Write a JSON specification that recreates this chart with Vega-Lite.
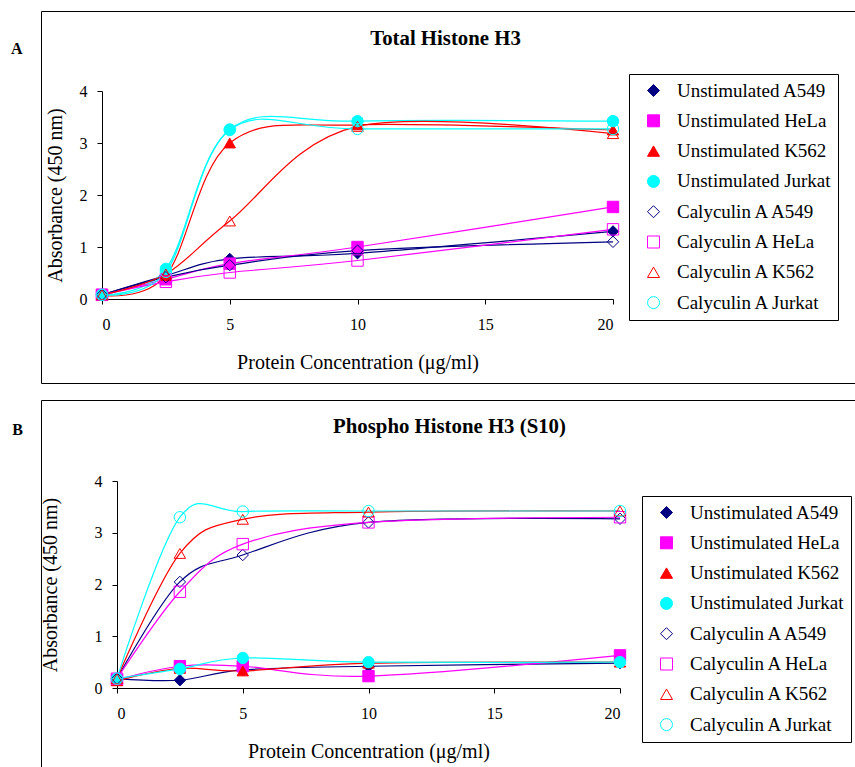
{
  "$schema": "https://vega.github.io/schema/vega-lite/v6.json",
  "padding": {"left": 10, "top": 10, "right": 0, "bottom": 0},
  "spacing": 15,
  "resolve": {"scale": {"stroke": "independent", "fill": "independent", "shape": "independent"}},
  "config": {
    "font": "Liberation Serif",
    "view": {"stroke": "black", "strokeWidth": 1},
    "axis": {"domainColor": "black", "tickColor": "black", "labelColor": "black", "titleColor": "black", "grid": false, "labelFont": "Liberation Serif", "titleFont": "Liberation Serif", "labelFontSize": 16, "titleFontSize": 20, "titleFontWeight": "normal", "tickSize": 5, "domainWidth": 1, "tickWidth": 1},
    "legend": {"strokeColor": "black", "strokeWidth": 1, "padding": 7, "labelFont": "Liberation Serif", "labelFontSize": 19, "labelColor": "black", "rowPadding": 10.3, "symbolSize": 144, "symbolStrokeWidth": 1, "labelOffset": 14, "symbolOffset": 8, "fillColor": "white"},
    "title": {"font": "Liberation Serif", "fontWeight": "bold", "color": "black"}
  },
  "data": {"values": [
    {"panel": "A", "series": "Unstimulated A549", "conc": 0, "abs": 0.08},
    {"panel": "A", "series": "Unstimulated A549", "conc": 2.5, "abs": 0.45},
    {"panel": "A", "series": "Unstimulated A549", "conc": 5, "abs": 0.77},
    {"panel": "A", "series": "Unstimulated A549", "conc": 10, "abs": 0.88},
    {"panel": "A", "series": "Unstimulated A549", "conc": 20, "abs": 1.3},
    {"panel": "A", "series": "Unstimulated HeLa", "conc": 0, "abs": 0.08},
    {"panel": "A", "series": "Unstimulated HeLa", "conc": 2.5, "abs": 0.38},
    {"panel": "A", "series": "Unstimulated HeLa", "conc": 5, "abs": 0.68},
    {"panel": "A", "series": "Unstimulated HeLa", "conc": 10, "abs": 1.0},
    {"panel": "A", "series": "Unstimulated HeLa", "conc": 20, "abs": 1.77},
    {"panel": "A", "series": "Unstimulated K562", "conc": 0, "abs": 0.07},
    {"panel": "A", "series": "Unstimulated K562", "conc": 2.5, "abs": 0.45},
    {"panel": "A", "series": "Unstimulated K562", "conc": 5, "abs": 3.0},
    {"panel": "A", "series": "Unstimulated K562", "conc": 10, "abs": 3.35},
    {"panel": "A", "series": "Unstimulated K562", "conc": 20, "abs": 3.25},
    {"panel": "A", "series": "Unstimulated Jurkat", "conc": 0, "abs": 0.08},
    {"panel": "A", "series": "Unstimulated Jurkat", "conc": 2.5, "abs": 0.58},
    {"panel": "A", "series": "Unstimulated Jurkat", "conc": 5, "abs": 3.26},
    {"panel": "A", "series": "Unstimulated Jurkat", "conc": 10, "abs": 3.42},
    {"panel": "A", "series": "Unstimulated Jurkat", "conc": 20, "abs": 3.42},
    {"panel": "A", "series": "Calyculin A A549", "conc": 0, "abs": 0.08},
    {"panel": "A", "series": "Calyculin A A549", "conc": 2.5, "abs": 0.42},
    {"panel": "A", "series": "Calyculin A A549", "conc": 5, "abs": 0.65},
    {"panel": "A", "series": "Calyculin A A549", "conc": 10, "abs": 0.93},
    {"panel": "A", "series": "Calyculin A A549", "conc": 20, "abs": 1.1},
    {"panel": "A", "series": "Calyculin A HeLa", "conc": 0, "abs": 0.08},
    {"panel": "A", "series": "Calyculin A HeLa", "conc": 2.5, "abs": 0.33},
    {"panel": "A", "series": "Calyculin A HeLa", "conc": 5, "abs": 0.51},
    {"panel": "A", "series": "Calyculin A HeLa", "conc": 10, "abs": 0.74},
    {"panel": "A", "series": "Calyculin A HeLa", "conc": 20, "abs": 1.34},
    {"panel": "A", "series": "Calyculin A K562", "conc": 0, "abs": 0.08},
    {"panel": "A", "series": "Calyculin A K562", "conc": 2.5, "abs": 0.48},
    {"panel": "A", "series": "Calyculin A K562", "conc": 5, "abs": 1.5},
    {"panel": "A", "series": "Calyculin A K562", "conc": 10, "abs": 3.32},
    {"panel": "A", "series": "Calyculin A K562", "conc": 20, "abs": 3.18},
    {"panel": "A", "series": "Calyculin A Jurkat", "conc": 0, "abs": 0.08},
    {"panel": "A", "series": "Calyculin A Jurkat", "conc": 2.5, "abs": 0.52},
    {"panel": "A", "series": "Calyculin A Jurkat", "conc": 5, "abs": 3.25},
    {"panel": "A", "series": "Calyculin A Jurkat", "conc": 10, "abs": 3.27},
    {"panel": "A", "series": "Calyculin A Jurkat", "conc": 20, "abs": 3.27},
    {"panel": "B", "series": "Unstimulated A549", "conc": 0, "abs": 0.18},
    {"panel": "B", "series": "Unstimulated A549", "conc": 2.5, "abs": 0.15},
    {"panel": "B", "series": "Unstimulated A549", "conc": 5, "abs": 0.35},
    {"panel": "B", "series": "Unstimulated A549", "conc": 10, "abs": 0.42},
    {"panel": "B", "series": "Unstimulated A549", "conc": 20, "abs": 0.48},
    {"panel": "B", "series": "Unstimulated HeLa", "conc": 0, "abs": 0.16},
    {"panel": "B", "series": "Unstimulated HeLa", "conc": 2.5, "abs": 0.42},
    {"panel": "B", "series": "Unstimulated HeLa", "conc": 5, "abs": 0.42},
    {"panel": "B", "series": "Unstimulated HeLa", "conc": 10, "abs": 0.23},
    {"panel": "B", "series": "Unstimulated HeLa", "conc": 20, "abs": 0.63},
    {"panel": "B", "series": "Unstimulated K562", "conc": 0, "abs": 0.14},
    {"panel": "B", "series": "Unstimulated K562", "conc": 2.5, "abs": 0.38},
    {"panel": "B", "series": "Unstimulated K562", "conc": 5, "abs": 0.33},
    {"panel": "B", "series": "Unstimulated K562", "conc": 10, "abs": 0.48},
    {"panel": "B", "series": "Unstimulated K562", "conc": 20, "abs": 0.5},
    {"panel": "B", "series": "Unstimulated Jurkat", "conc": 0, "abs": 0.18},
    {"panel": "B", "series": "Unstimulated Jurkat", "conc": 2.5, "abs": 0.37},
    {"panel": "B", "series": "Unstimulated Jurkat", "conc": 5, "abs": 0.58},
    {"panel": "B", "series": "Unstimulated Jurkat", "conc": 10, "abs": 0.5},
    {"panel": "B", "series": "Unstimulated Jurkat", "conc": 20, "abs": 0.5},
    {"panel": "B", "series": "Calyculin A A549", "conc": 0, "abs": 0.18},
    {"panel": "B", "series": "Calyculin A A549", "conc": 2.5, "abs": 2.05},
    {"panel": "B", "series": "Calyculin A A549", "conc": 5, "abs": 2.57},
    {"panel": "B", "series": "Calyculin A A549", "conc": 10, "abs": 3.2},
    {"panel": "B", "series": "Calyculin A A549", "conc": 20, "abs": 3.27},
    {"panel": "B", "series": "Calyculin A HeLa", "conc": 0, "abs": 0.18},
    {"panel": "B", "series": "Calyculin A HeLa", "conc": 2.5, "abs": 1.86},
    {"panel": "B", "series": "Calyculin A HeLa", "conc": 5, "abs": 2.78},
    {"panel": "B", "series": "Calyculin A HeLa", "conc": 10, "abs": 3.2},
    {"panel": "B", "series": "Calyculin A HeLa", "conc": 20, "abs": 3.3},
    {"panel": "B", "series": "Calyculin A K562", "conc": 0, "abs": 0.18},
    {"panel": "B", "series": "Calyculin A K562", "conc": 2.5, "abs": 2.6},
    {"panel": "B", "series": "Calyculin A K562", "conc": 5, "abs": 3.26},
    {"panel": "B", "series": "Calyculin A K562", "conc": 10, "abs": 3.4},
    {"panel": "B", "series": "Calyculin A K562", "conc": 20, "abs": 3.42},
    {"panel": "B", "series": "Calyculin A Jurkat", "conc": 0, "abs": 0.18},
    {"panel": "B", "series": "Calyculin A Jurkat", "conc": 2.5, "abs": 3.3},
    {"panel": "B", "series": "Calyculin A Jurkat", "conc": 5, "abs": 3.41},
    {"panel": "B", "series": "Calyculin A Jurkat", "conc": 10, "abs": 3.42},
    {"panel": "B", "series": "Calyculin A Jurkat", "conc": 20, "abs": 3.42}
  ]},
  "vconcat": [
    {
      "width": 820, "height": 372,
      "title": {"text": "A", "orient": "left", "angle": 0, "anchor": "end", "align": "center", "baseline": "middle", "fontSize": 16, "offset": 10, "dy": 38},
      "transform": [{"filter": "datum.panel === 'A'"}],
      "resolve": {"scale": {"x": "independent"}, "axis": {"x": "independent"}},
      "layer": [
        {
          "encoding": {
            "x": {"field": "conc", "type": "quantitative", "scale": {"domain": [0, 20], "range": [61, 572], "nice": false, "zero": false}, "axis": {"values": [0, 5, 10, 15, 20], "offset": -84, "title": "Protein Concentration (μg/ml)", "labelPadding": 12, "titlePadding": 20}},
            "y": {"field": "abs", "type": "quantitative", "scale": {"domain": [0, 4], "range": [288, 80], "nice": false}, "axis": {"values": [0, 1, 2, 3, 4], "offset": -61, "title": "Absorbance (450 nm)", "labelPadding": 10, "titlePadding": 14}}
          },
          "layer": [
            {
              "mark": {"type": "line", "interpolate": "cardinal", "strokeWidth": 1.2},
              "encoding": {
                "stroke": {"field": "series", "type": "nominal", "scale": {"domain": ["Unstimulated A549", "Unstimulated HeLa", "Unstimulated K562", "Unstimulated Jurkat", "Calyculin A A549", "Calyculin A HeLa", "Calyculin A K562", "Calyculin A Jurkat"], "range": ["#000080", "#FF00FF", "#FF0000", "#00FFFF", "#000080", "#FF00FF", "#FF0000", "#00FFFF"]}, "legend": {"title": null, "orient": "none", "legendX": 588, "legendY": 63}}
              }
            },
            {
              "mark": {"type": "point", "size": 130, "strokeWidth": 1, "opacity": 1},
              "encoding": {
                "stroke": {"field": "series", "type": "nominal", "legend": {"title": null, "orient": "none", "legendX": 588, "legendY": 63}},
                "fill": {"field": "series", "type": "nominal", "legend": {"title": null, "orient": "none", "legendX": 588, "legendY": 63}, "scale": {"domain": ["Unstimulated A549", "Unstimulated HeLa", "Unstimulated K562", "Unstimulated Jurkat", "Calyculin A A549", "Calyculin A HeLa", "Calyculin A K562", "Calyculin A Jurkat"], "range": ["#000080", "#FF00FF", "#FF0000", "#00FFFF", "transparent", "transparent", "transparent", "transparent"]}},
                "shape": {"field": "series", "type": "nominal", "legend": {"title": null, "orient": "none", "legendX": 588, "legendY": 63}, "scale": {"domain": ["Unstimulated A549", "Unstimulated HeLa", "Unstimulated K562", "Unstimulated Jurkat", "Calyculin A A549", "Calyculin A HeLa", "Calyculin A K562", "Calyculin A Jurkat"], "range": ["diamond", "square", "triangle-up", "circle", "diamond", "square", "triangle-up", "circle"]}}
              }
            }
          ]
        },
        {
          "mark": {"type": "point", "opacity": 0},
          "encoding": {
            "x": {"field": "conc", "type": "quantitative", "scale": {"domain": [0, 20], "range": [0, 808], "nice": false, "zero": false}, "axis": {"orient": "top", "title": "Total Histone H3", "labels": false, "ticks": false, "domain": false, "offset": -27, "titlePadding": 0, "titleBaseline": "middle", "titleFontWeight": "bold", "titleFontSize": 20.8}}
          }
        }
      ]
    },
    {
      "width": 820, "height": 372,
      "title": {"text": "B", "orient": "left", "angle": 0, "anchor": "end", "align": "center", "baseline": "middle", "fontSize": 16, "offset": 10, "dy": 30},
      "transform": [{"filter": "datum.panel === 'B'"}],
      "resolve": {"scale": {"x": "independent"}, "axis": {"x": "independent"}},
      "layer": [
        {
          "encoding": {
            "x": {"field": "conc", "type": "quantitative", "scale": {"domain": [0, 20], "range": [76, 579], "nice": false, "zero": false}, "axis": {"values": [0, 5, 10, 15, 20], "offset": -84, "title": "Protein Concentration (μg/ml)", "labelPadding": 12, "titlePadding": 20}},
            "y": {"field": "abs", "type": "quantitative", "scale": {"domain": [0, 4], "range": [288, 81], "nice": false}, "axis": {"values": [0, 1, 2, 3, 4], "offset": -76, "title": "Absorbance (450 nm)", "labelPadding": 10, "titlePadding": 34}}
          },
          "layer": [
            {
              "mark": {"type": "line", "interpolate": "cardinal", "strokeWidth": 1.2},
              "encoding": {
                "stroke": {"field": "series", "type": "nominal", "scale": {"domain": ["Unstimulated A549", "Unstimulated HeLa", "Unstimulated K562", "Unstimulated Jurkat", "Calyculin A A549", "Calyculin A HeLa", "Calyculin A K562", "Calyculin A Jurkat"], "range": ["#000080", "#FF00FF", "#FF0000", "#00FFFF", "#000080", "#FF00FF", "#FF0000", "#00FFFF"]}, "legend": {"title": null, "orient": "none", "legendX": 601, "legendY": 96}}
              }
            },
            {
              "mark": {"type": "point", "size": 130, "strokeWidth": 1, "opacity": 1},
              "encoding": {
                "stroke": {"field": "series", "type": "nominal", "legend": {"title": null, "orient": "none", "legendX": 601, "legendY": 96}},
                "fill": {"field": "series", "type": "nominal", "legend": {"title": null, "orient": "none", "legendX": 601, "legendY": 96}, "scale": {"domain": ["Unstimulated A549", "Unstimulated HeLa", "Unstimulated K562", "Unstimulated Jurkat", "Calyculin A A549", "Calyculin A HeLa", "Calyculin A K562", "Calyculin A Jurkat"], "range": ["#000080", "#FF00FF", "#FF0000", "#00FFFF", "transparent", "transparent", "transparent", "transparent"]}},
                "shape": {"field": "series", "type": "nominal", "legend": {"title": null, "orient": "none", "legendX": 601, "legendY": 96}, "scale": {"domain": ["Unstimulated A549", "Unstimulated HeLa", "Unstimulated K562", "Unstimulated Jurkat", "Calyculin A A549", "Calyculin A HeLa", "Calyculin A K562", "Calyculin A Jurkat"], "range": ["diamond", "square", "triangle-up", "circle", "diamond", "square", "triangle-up", "circle"]}}
              }
            }
          ]
        },
        {
          "mark": {"type": "point", "opacity": 0},
          "encoding": {
            "x": {"field": "conc", "type": "quantitative", "scale": {"domain": [0, 20], "range": [0, 816], "nice": false, "zero": false}, "axis": {"orient": "top", "title": "Phospho Histone H3 (S10)", "labels": false, "ticks": false, "domain": false, "offset": -26, "titlePadding": 0, "titleBaseline": "middle", "titleFontWeight": "bold", "titleFontSize": 20.8}}
          }
        }
      ]
    }
  ]
}
